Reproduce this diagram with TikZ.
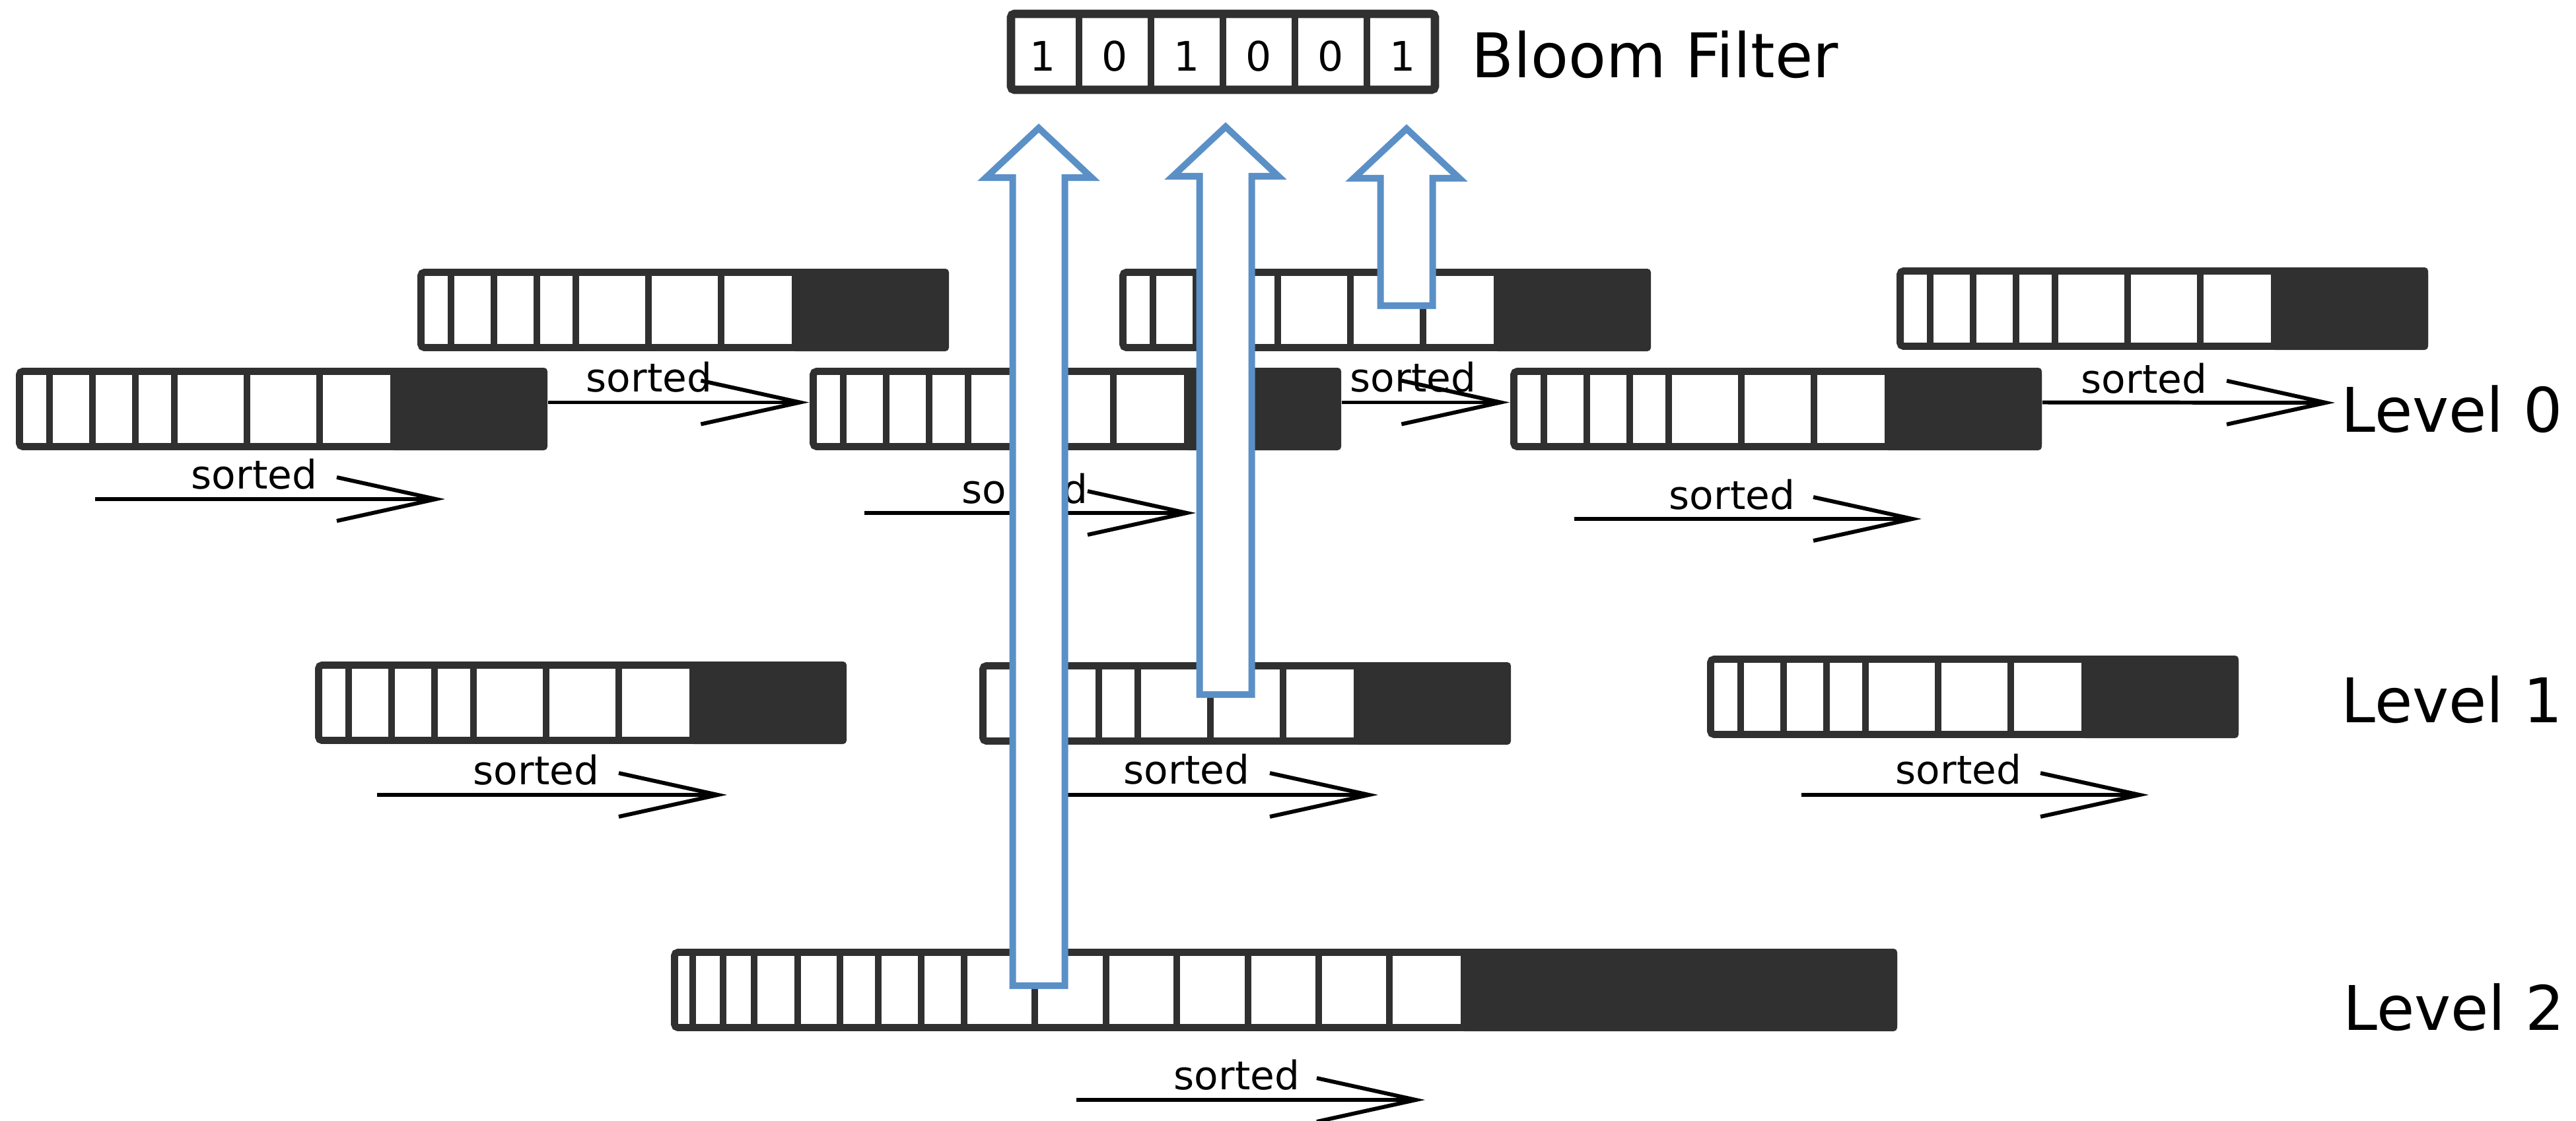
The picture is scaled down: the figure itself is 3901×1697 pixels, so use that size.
\documentclass[tikz,border=0pt]{standalone}
\usepackage{fontspec}
\setmainfont{DejaVu Sans}
\usetikzlibrary{arrows.meta}

\definecolor{blockgray}{RGB}{48,48,48}
\definecolor{lookupblue}{RGB}{91,144,199}

% name, left, top, width, start of full part, cell borders (px)
\newcommand{\sst}[6]{
    \node [inner sep = 0pt, minimum width = #4*0.01cm, minimum height = 1.25cm] (#1) at (#2+#4/2, #3+62.5) {};
    \begin{scope}[shift = {(#2,#3)}]
        \fill [blockgray, rounded corners = 1.5pt] (#5,0) rectangle (#4,125);
        \draw [blockline] (5.5,5.5) rectangle (#4-5.5,119.5);
        \foreach \cb in {#6} \draw [cellline] (\cb,5) -- (\cb,120);
    \end{scope}
}
\newcommand{\sstable}[3]{\sst{#1}{#2}{#3}{805}{567}{51,116,181,240,350,460}}
% centre x, bottom, tip
\newcommand{\lookuparrow}[3]{
    \draw [lookup] (#1-39.5,#2) -- (#1-39.5,#3+75) -- (#1-80,#3+75) -- (#1,#3)
        -- (#1+80,#3+75) -- (#1+39.5,#3+75) -- (#1+39.5,#2) -- cycle;
}

\begin{document}
\begin{tikzpicture}[x = 0.01cm, y = -0.01cm,
    blockline/.style = {draw = blockgray, line width = 3.1pt, rounded corners = 1.5pt},
    cellline/.style = {draw = blockgray, line width = 2.6pt},
    sortarrow/.style = {-{Straight Barb[length = 1.5cm, width = 0.66cm]}, line width = 1.7pt},
    sortlabel/.style = {font = \fontsize{17}{20}\selectfont, inner sep = 0pt, anchor = base},
    biglabel/.style = {font = \fontsize{26.5}{32}\selectfont, inner sep = 0pt, anchor = base west},
    lookup/.style = {draw = lookupblue, fill = white, line width = 2.85pt, line join = miter}]
%\draw [help lines, step = 100] (0,0) grid (3901,1697);
    \useasboundingbox (0,0) rectangle (3901,1697);

    % bloom filter
    \node [inner sep = 0pt, minimum width = 6.54cm, minimum height = 1.27cm] (bloom) at (1852,78.5) {};
    \draw [blockline, line width = 3.6pt] (1531,21) rectangle (2173,136);
    \foreach \cb in {1634,1743,1852,1961,2070} \draw [cellline] (\cb,21) -- (\cb,136);
    \foreach \b [count = \i] in {1,0,1,0,0,1}
        \node [font = \fontsize{17.5}{20}\selectfont, inner sep = 0pt] (bit\i) at (1470.5+109*\i,85) {\b};
    \node [biglabel] (bloomlabel) at (2228,118) {Bloom Filter};

    % level 0
    \sstable{U1}{632}{407}
    \sstable{U2}{1695}{407}
    \sstable{U3}{2872}{405}
    \sstable{L1}{24}{557}
    \sstable{L2}{1226}{557}
    \sstable{L3}{2287}{557}
    \node [biglabel] (lvl0) at (3545,654) {Level 0};
    \coordinate (lvl0end) at (3536,610);
    \draw [sortarrow] ([yshift = 0.1cm]L1.east) -- ([yshift = 0.1cm]L2.west);
    \draw [sortarrow] ([yshift = 0.1cm]L2.east) -- ([yshift = 0.1cm]L3.west);
    \draw [sortarrow] ([yshift = 0.1cm]L3.east) -- (lvl0end);
    \node [sortlabel] (s12) at (983,593) {sorted};
    \node [sortlabel] (s23) at (2140,593) {sorted};
    \node [sortlabel] (s3e) at (3247,595) {sorted};

    % level 1
    \sstable{M1}{477}{1002}
    \sstable{M2}{1483}{1003}
    \sstable{M3}{2585}{993}
    \node [biglabel] (lvl1) at (3545,1094) {Level 1};

    % level 2
    \sst{B}{1016}{1437}{1857}{1196}{33,79,126,192,256,314,379,444,551,659,766,874,981,1088}
    \node [biglabel] (lvl2) at (3548,1560) {Level 2};

    % sorted under each table
    \foreach \xa/\xb/\yl/\xt/\yt [count = \i] in {144/674/756/385/740, 1309/1811/777/1552/762,
        2384/2910/786/2623/771, 571/1101/1204/812/1188, 1560/2087/1204/1797/1187,
        2728/3254/1204/2966/1187, 1630/2158/1666/1873/1650}{
        \draw [sortarrow] (\xa,\yl) -- (\xb,\yl);
        \node [sortlabel] (srt\i) at (\xt,\yt) {sorted};
    }

    % lookups
    \lookuparrow{1573}{1493}{194}
    \lookuparrow{1856}{1052}{192}
    \lookuparrow{2130}{463}{195}
\end{tikzpicture}
\end{document}
